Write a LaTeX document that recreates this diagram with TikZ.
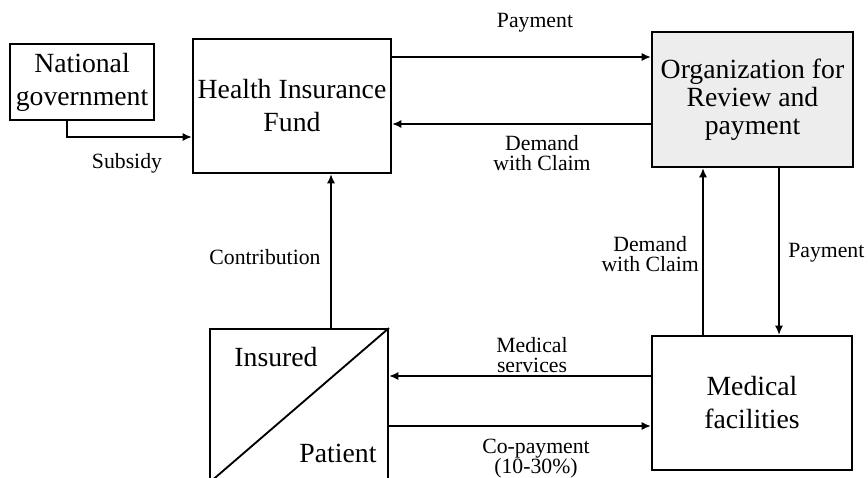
\documentclass[tikz,border=0pt]{standalone}
\usepackage{fontspec}
\setmainfont{Liberation Serif}
\usetikzlibrary{calc,arrows.meta}
\begin{document}
\begin{tikzpicture}[x=0.75pt,y=-0.75pt,
  box/.style={draw,line width=1.4pt,inner sep=0pt,align=center,
    font=\fontsize{20.8pt}{24.75pt}\selectfont},
  lbl/.style={inner sep=0pt,align=center,
    font=\fontsize{16.3pt}{15pt}\selectfont},
  arr/.style={line width=1.4pt,-{Latex[length=7pt,width=6pt]}},
  link/.style={line width=1.4pt}]
\useasboundingbox (0,0) rectangle (868,478);

% boxes
\node[box,minimum width=108pt,minimum height=57pt] (ng) at (82,82) {National\\government};
\node[box,minimum width=148.5pt,minimum height=100.5pt] (hif) at (292,106) {Health Insurance\\Fund};
\node[box,fill=gray!14,minimum width=150.75pt,minimum height=101.25pt,
  font=\fontsize{20.8pt}{21pt}\selectfont] (org) at (752.5,99.5) {Organization for\\Review and\\payment};
\node[box,minimum width=150pt,minimum height=100.5pt] (mf) at (752,403) {Medical\\facilities};
\node[box,minimum width=133.5pt,minimum height=114.75pt] (pat) at (299,405.5) {};
\draw[link] (pat.north east) -- (pat.south west);
\node[font=\fontsize{20.8pt}{24pt}\selectfont,inner sep=0pt] (ins) at (276,357) {Insured};
\node[font=\fontsize{20.8pt}{24pt}\selectfont,inner sep=0pt] (pt) at (338,453) {Patient};

% connectors
\coordinate (s0) at ($(ng.south)+(-15,0)$);
\draw[arr] (s0) |- ($(hif.west)+(0,31)$);
\coordinate (c0) at ($(hif.south)+(39,0)$);
\draw[arr] (pat.north -| c0) -- (c0);
\coordinate (p1) at ($(hif.east)+(0,-49)$);
\draw[arr] (p1) -- (p1 -| org.west);
\coordinate (d1) at ($(hif.east)+(0,18)$);
\draw[arr] (d1 -| org.west) -- (d1);
\coordinate (d2) at ($(mf.north)+(-49,0)$);
\draw[arr] (d2) -- (d2 |- org.south);
\coordinate (p2) at ($(mf.north)+(27,0)$);
\draw[arr] (p2 |- org.south) -- (p2);
\coordinate (m1) at ($(pat.east)+(0,-29.5)$);
\draw[arr] (m1 -| mf.west) -- (m1);
\coordinate (k1) at ($(pat.east)+(0,20.5)$);
\draw[arr] (k1) -- (k1 -| mf.west);

% connector labels
\node[lbl] (lpay1) at (535,23) {Payment};
\node[lbl] (ldem1) at (542,153) {Demand\\with Claim};
\node[lbl] (lsub) at (127,163) {Subsidy};
\node[lbl] (lcon) at (265,257) {Contribution};
\node[lbl] (lmed) at (532,355) {Medical\\services};
\node[lbl] (lcop) at (536,459) {Co-payment\\(10-30\%)};
\node[lbl,anchor=east] (ldem2) at (699,254) {Demand\\with Claim};
\node[lbl,anchor=west] (lpay2) at (788,253) {Payment};
\end{tikzpicture}
\end{document}
